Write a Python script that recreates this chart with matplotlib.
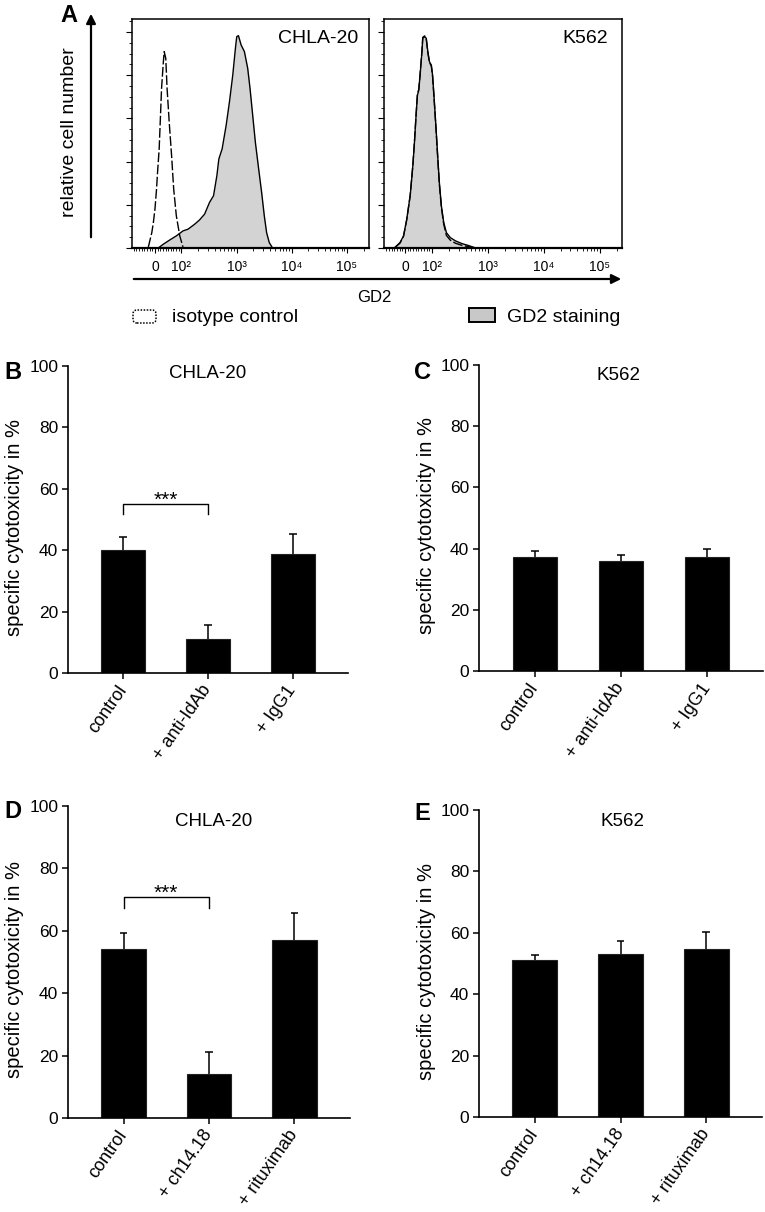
import numpy as np
import matplotlib.pyplot as plt
from matplotlib.patches import FancyBboxPatch, Rectangle, FancyArrowPatch
from matplotlib.ticker import NullFormatter

plt.rcParams['font.family'] = ['Liberation Sans', 'DejaVu Sans']

W, H = 765, 1212

# ---------------- data ----------------
# Panel A: flow cytometry histograms (GD2 fluorescence, relative cell number)
chla_iso_x = [-25, -12, -6, 0, 6, 9, 16, 21, 25, 31, 35, 41, 46, 54, 63, 71, 81, 94, 107]
chla_iso_y = [0.5, 7.1, 11.8, 18.0, 27.3, 33.5, 45.9, 61.4, 73.8, 84.7, 90.9, 87.8, 73.8,
              58.3, 42.8, 27.3, 14.9, 5.6, 0.5]
chla_gd2_x = [12.5, 31, 56, 81, 107, 132, 174, 214, 264, 324, 383, 440, 478, 548, 647, 743,
              853, 953, 1007, 1081, 1208, 1387, 1592, 1754, 1959, 2188, 2512, 2844, 3177,
              3499, 3909, 4487]
chla_gd2_y = [0, 1.7, 3.7, 5.6, 7.9, 8.7, 11.0, 13.0, 15.7, 21.1, 24.2, 33.5, 41.2, 45.9,
              56.7, 67.6, 80.0, 92.4, 97.8, 98.3, 94.0, 90.9, 83.1, 73.8, 61.4, 49.0, 36.6,
              25.7, 14.9, 7.1, 2.5, 0]
k562_gd2_x = [-37, -19, -6, 6, 19, 29, 35, 41, 46, 51, 56, 63, 66, 73, 79, 85, 91, 98, 103,
              110, 118, 127, 136, 148, 163, 182, 214, 264, 348, 458, 604]
k562_gd2_y = [0.4, 2.5, 5.6, 13.3, 24.2, 38.2, 49.0, 61.4, 70.7, 73.0, 80.0, 90.9, 97.1,
              97.8, 97.1, 90.9, 86.2, 84.7, 80.0, 69.1, 56.7, 42.8, 30.4, 19.5, 11.8, 7.1,
              4.8, 3.3, 2.0, 1.1, 0]
k562_iso_x = [-37, -19, -6, 6, 19, 29, 35, 41, 46, 51, 56, 63, 66, 73, 79, 85, 91, 98, 103,
              110, 118, 127, 136, 148, 163, 182, 214, 264, 348, 458, 604]
k562_iso_y = [0.3, 2.3, 5.4, 13.0, 24.5, 38.6, 49.4, 61.8, 71.2, 73.4, 80.5, 91.5, 97.5,
              98.2, 96.8, 90.4, 85.9, 84.2, 79.5, 68.4, 56.0, 42.1, 29.6, 18.8, 11.0, 5.8,
              3.6, 2.2, 1.2, 0.6, 0]

# Panels B-E: specific cytotoxicity (%) mean and upper error
cats_anti = ['control', '+ anti-IdAb', '+ IgG1']
cats_ab = ['control', '+ ch14.18', '+ rituximab']
b_vals = [40.0, 11.1, 38.9]
b_errs = [4.3, 4.5, 6.4]
c_vals = [37.3, 36.1, 37.3]
c_errs = [1.8, 1.7, 2.7]
d_vals = [54.3, 14.2, 57.2]
d_errs = [5.1, 6.9, 8.6]
e_vals = [51.1, 53.1, 54.7]
e_errs = [1.6, 4.3, 5.7]

fig = plt.figure(figsize=(W / 100, H / 100), dpi=100)


def rect(l, t, r, b):
    return [l / W, 1 - b / H, (r - l) / W, (b - t) / H]


def fpt(x, y):
    return (x / W, 1 - y / H)


# ---------------- panel A ----------------
def hist_panel(box, xmin, iso_x, iso_y, gd2_x, gd2_y, label, lab_x):
    ax = fig.add_axes(rect(*box))
    ax.set_xscale('symlog', linthresh=100, linscale=0.43)
    ax.fill_between(gd2_x, gd2_y, color='#d3d3d3', lw=0)
    ax.plot(gd2_x, gd2_y, color='black', lw=1.0)
    ax.plot(iso_x, iso_y, color='black', lw=1.0, ls=(0, (7, 1.8)))
    ax.set_xlim(xmin, 2.5e5)
    ax.set_ylim(0, 106)
    ax.set_xticks([0, 1e2, 1e3, 1e4, 1e5], labels=['0', '10²', '10³', '10⁴', '10⁵'])
    minors = [v * s for v in range(10, 100, 10) for s in (-1, 1)]
    minors += [m * 10 ** d for d in range(2, 6) for m in range(2, 10)]
    minors = [m for m in minors if xmin < m < 2.5e5]
    ax.set_xticks(minors, minor=True)
    ax.xaxis.set_minor_formatter(NullFormatter())
    ax.set_yticks(np.arange(0, 101, 20), labels=[])
    ax.set_yticks(np.arange(0, 106, 5), minor=True)
    ax.tick_params(axis='x', which='major', direction='out', length=3.5, width=0.8,
                   labelsize=10, pad=5)
    ax.tick_params(axis='x', which='minor', direction='out', length=2, width=0.6)
    ax.tick_params(axis='y', which='major', direction='out', length=4.5, width=0.8)
    ax.tick_params(axis='y', which='minor', direction='out', length=2, width=0.6)
    for s in ax.spines.values():
        s.set_linewidth(1.1)
    ax.spines['bottom'].set_linewidth(1.6)
    ax.text(lab_x, 0.915, label, transform=ax.transAxes, ha='right', va='center',
            fontsize=14)
    return ax


hist_panel((132, 19, 369, 248), -87, chla_iso_x, chla_iso_y, chla_gd2_x, chla_gd2_y,
           'CHLA-20', 0.955)
hist_panel((384, 19, 622, 248), -79, k562_iso_x, k562_iso_y, k562_gd2_x, k562_gd2_y,
           'K562', 0.94)

arrow_kw = dict(arrowstyle='-|>', mutation_scale=14, lw=1.6, color='black',
                transform=fig.transFigure)
fig.add_artist(FancyArrowPatch(fpt(91, 240), fpt(91, 11), **arrow_kw))
fig.add_artist(FancyArrowPatch(fpt(131, 279), fpt(624, 279), **arrow_kw))

fig.text(*fpt(69, 15), 'A', fontsize=17, fontweight='bold', ha='center', va='center')
fig.text(*fpt(70, 132), 'relative cell number', rotation=90, fontsize=14,
         ha='center', va='center')
fig.text(*fpt(374, 297), 'GD2', fontsize=12, ha='center', va='center')

# legend
fig.add_artist(FancyBboxPatch((133 / 100, (H - 323) / 100), 0.23, 0.13,
                              boxstyle='round,pad=0,rounding_size=0.04',
                              transform=fig.dpi_scale_trans, facecolor='white',
                              edgecolor='black', lw=1.1, ls=(0, (1, 1))))
fig.text(*fpt(172, 317), 'isotype control', fontsize=14, ha='left', va='center')
fig.add_artist(Rectangle((469 / 100, (H - 322) / 100), 0.26, 0.14,
                         transform=fig.dpi_scale_trans, facecolor='#c8c8c8',
                         edgecolor='black', lw=1.4))
fig.text(*fpt(507, 317), 'GD2 staining', fontsize=14, ha='left', va='center')


# ---------------- panels B-E ----------------
def bar_panel(box, cats, vals, errs, title, title_px, letter, letter_px, sig=None):
    ax = fig.add_axes(rect(*box))
    x = np.arange(len(cats))
    ax.bar(x, vals, width=0.52, color='black', edgecolor='#222222', lw=0.8, zorder=2)
    tops = np.array(vals) + np.array(errs)
    ax.vlines(x, vals, tops, color='black', lw=1.1, zorder=1)
    ax.hlines(tops, x - 0.045, x + 0.045, color='black', lw=1.1, zorder=1)
    ax.set_xlim(-0.65, 2.65)
    ax.set_ylim(0, 100)
    ax.set_yticks(np.arange(0, 101, 20))
    ax.set_xticks(x)
    ax.set_xticklabels(cats, rotation=55, ha='right', va='center', rotation_mode='anchor',
                       fontsize=13)
    ax.tick_params(axis='y', direction='out', length=4, width=1.1, labelsize=12.5, pad=3)
    ax.tick_params(axis='x', direction='out', length=4, width=1.1, pad=6)
    for s in ['top', 'right']:
        ax.spines[s].set_visible(False)
    for s in ['left', 'bottom']:
        ax.spines[s].set_linewidth(1.2)
    l, t, r, b = box
    ax.text((title_px[0] - l) / (r - l), (b - title_px[1]) / (b - t), title,
            transform=ax.transAxes, ha='center', va='center', fontsize=13.5)
    fig.text(*fpt(*letter_px), letter, fontsize=17, fontweight='bold', ha='center',
             va='center')
    fig.text(*fpt(l - 53, (t + b) / 2 + 8), 'specific cytotoxicity in %', rotation=90,
             fontsize=14.5, ha='center', va='center')
    if sig is not None:
        i0, i1, yb, yd = sig
        ax.plot([i0, i0, i1, i1], [yd, yb, yb, yd], color='black', lw=1.0)
        ax.text((i0 + i1) / 2, yb - 0.6, '***', ha='center', va='baseline', fontsize=15)
    return ax


bar_panel((68, 366, 348, 673), cats_anti, b_vals, b_errs, 'CHLA-20', (208, 373),
          'B', (13, 372), sig=(0, 1, 55.0, 51.8))
bar_panel((479, 365, 763, 671), cats_anti, c_vals, c_errs, 'K562', (619, 375),
          'C', (422, 372))
bar_panel((68, 806, 350, 1118), cats_ab, d_vals, d_errs, 'CHLA-20', (214, 822),
          'D', (13, 811), sig=(0, 1, 70.7, 67.4))
bar_panel((479, 810, 762, 1117), cats_ab, e_vals, e_errs, 'K562', (623, 822),
          'E', (422, 813))

fig.savefig('out.png', dpi=100)
